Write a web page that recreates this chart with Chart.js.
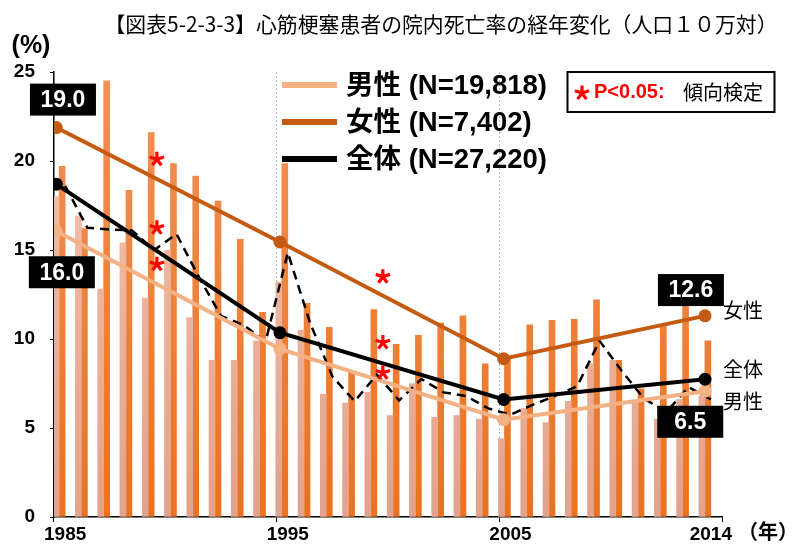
<!DOCTYPE html>
<html><head><meta charset="utf-8">
<script src="https://cdn.jsdelivr.net/npm/chart.js@4"></script>
<style>html,body{margin:0;padding:0;background:#fff;}</style>
</head><body>
<canvas id="c" width="800" height="545"></canvas>
<script>
// ---- data ----
const years = [1985,1986,1987,1988,1989,1990,1991,1992,1993,1994,1995,1996,1997,1998,1999,2000,2001,2002,2003,2004,2005,2006,2007,2008,2009,2010,2011,2012,2013,2014];
const yearLabels = years.map(String);
const maleRate   = [18.0,16.9,12.8,15.4,12.3,15.0,11.2,8.8,8.8,9.9,13.2,10.5,6.9,6.4,7.0,5.7,7.5,5.6,5.7,5.5,4.4,6.1,5.3,6.5,8.6,8.8,6.4,5.5,6.6,6.8];
const femaleRate = [19.7,16.2,24.5,18.35,21.6,19.85,19.15,17.75,15.6,11.5,19.85,12.0,10.65,8.15,11.65,9.7,10.2,10.9,11.3,8.6,8.95,10.8,11.05,11.1,12.2,8.8,7.2,10.7,12.0,9.9];
const totalRate  = [18.6,16.25,16.15,16.1,15.0,15.9,13.5,11.3,10.8,9.85,14.85,10.9,7.9,6.5,8.0,6.55,7.75,7.0,6.8,6.1,5.75,6.3,6.8,7.35,9.9,8.2,6.65,5.9,7.3,6.6];
const trendYears  = [1985,1995,2005,2014];
const maleTrend   = [16.05,9.45,5.47,7.07];
const femaleTrend = [21.88,15.45,8.89,11.3];
const totalTrend  = [18.7,10.35,6.6,7.74];
const shownYearLabels = ['1985','1995','2005','2014'];
const seriesNames = ['男性 (N=19,818)','女性 (N=7,402)','全体 (N=27,220)'];
const starYears  = [1989.5, 1999.6];
const starValues = [[20.1,16.25,14.2],[13.5,9.8,8.1]];
const valueLabels     = ['19.0','16.0','12.6','6.5'];
const valueLabelYears = [1985.3,1985.25,2013.37,2013.34];
const valueLabelPos   = [23.45,13.75,12.75,5.35];
const sideLabels      = ['女性','全体','男性'];
const sideLabelValues = [11.6,8.28,6.51];
const titleText = '【図表5-2-3-3】心筋梗塞患者の院内死亡率の経年変化（人口１０万対）';

const C_MALE = '#f4b183', C_FEMALE = '#c55a11', C_TOTAL = '#000000';

function vGrad(top, bottom) {
  let cache = null, key = '';
  return (c) => {
    const a = c.chart.chartArea;
    if (!a) return bottom;
    const k = a.top + ',' + a.bottom;
    if (!cache || key !== k) {
      const g = c.chart.ctx.createLinearGradient(0, a.bottom, 0, a.top);
      g.addColorStop(0, bottom); g.addColorStop(1, top);
      cache = g; key = k;
    }
    return cache;
  };
}
const pts = (xs, ys) => xs.map((x, i) => ({x: x, y: ys[i]}));

function drawStar(c, x, y) {
  c.save();
  c.strokeStyle = '#ff0000'; c.lineWidth = 3.2; c.lineCap = 'butt';
  c.beginPath();
  for (let k = 0; k < 5; k++) {
    const a = -Math.PI / 2 + k * 2 * Math.PI / 5;
    c.moveTo(x, y); c.lineTo(x + 7.5 * Math.cos(a), y + 7.5 * Math.sin(a));
  }
  c.stroke();
  c.restore();
}

const deco = {
  id: 'deco',
  beforeDraw(chart) {
    const c = chart.ctx; c.save(); c.fillStyle = '#fff'; c.fillRect(0, 0, chart.width, chart.height); c.restore();
  },
  afterDraw(chart) {
    const c = chart.ctx, xl = chart.scales.xl, y = chart.scales.y;
    c.save();
    c.textBaseline = 'middle';
    // title
    c.fillStyle = '#000'; c.textAlign = 'center';
    c.font = '21px "Noto Sans CJK JP"';
    c.fillText(titleText, 441, 24, 673);
    // (%)
    c.font = 'bold 25px "Liberation Sans"';
    c.fillText('(%)', 31, 46);
    // (年)
    c.textAlign = 'left';
    c.font = 'bold 20px "Noto Sans CJK JP"';
    c.fillText('（年）', 738, 531);
    // stars
    starYears.forEach((yr, i) => starValues[i].forEach(v => {
      drawStar(c, xl.getPixelForValue(yr), y.getPixelForValue(v));
    }));
    // value label boxes
    valueLabels.forEach((t, i) => {
      const px = xl.getPixelForValue(valueLabelYears[i]), py = y.getPixelForValue(valueLabelPos[i]);
      c.fillStyle = '#000'; c.fillRect(px - 33, py - 16, 66, 32);
      c.fillStyle = '#fff'; c.font = 'bold 23px "Liberation Sans"'; c.textAlign = 'center';
      c.fillText(t, px, py + 1);
    });
    // side labels
    c.fillStyle = '#000'; c.textAlign = 'center'; c.font = '20px "Noto Sans CJK JP"';
    sideLabels.forEach((t, i) => {
      c.fillText(t, xl.getPixelForValue(2014) + 38, y.getPixelForValue(sideLabelValues[i]));
    });
    // legend
    const lgColors = [C_MALE, C_FEMALE, C_TOTAL], lgY = [85, 122, 159];
    c.textAlign = 'left';
    c.font = 'bold 27.5px "Liberation Sans", "Noto Sans CJK JP"';
    seriesNames.forEach((t, i) => {
      c.strokeStyle = lgColors[i]; c.lineWidth = 6; c.lineCap = 'butt';
      c.beginPath(); c.moveTo(282, lgY[i]); c.lineTo(337, lgY[i]); c.stroke();
      c.fillStyle = '#000';
      c.fillText(t, 346, lgY[i] + 1);
    });
    // P box
    c.strokeStyle = '#000'; c.lineWidth = 2;
    c.strokeRect(567.5, 72, 207, 40);
    drawStar(c, 582, 93);
    c.fillStyle = '#ff0000';
    c.textAlign = 'left';
    c.font = 'bold 20px "Liberation Sans"';
    c.fillText('P<0.05:', 594, 92);
    c.fillStyle = '#000';
    c.font = '20px "Noto Sans CJK JP"';
    c.fillText('傾向検定', 683, 92);
    c.restore();
  }
};

new Chart(document.getElementById('c'), {
  type: 'bar',
  data: {
    labels: yearLabels,
    datasets: [
      { type: 'line', label: '全体(年次)', data: totalRate, xAxisID: 'xb', yAxisID: 'y',
        borderColor: '#000', borderWidth: 2.5, borderDash: [9, 6], pointRadius: 0, tension: 0, fill: false, order: 3 },
      { type: 'line', label: seriesNames[1], data: pts(trendYears, femaleTrend), xAxisID: 'xl', yAxisID: 'y',
        borderColor: C_FEMALE, backgroundColor: C_FEMALE, borderWidth: 4, pointRadius: 6.5, pointBorderWidth: 0,
        pointBackgroundColor: C_FEMALE, fill: false, order: 2 },
      { type: 'line', label: seriesNames[0], data: pts(trendYears, maleTrend), xAxisID: 'xl', yAxisID: 'y',
        borderColor: C_MALE, backgroundColor: C_MALE, borderWidth: 4, pointRadius: 6.5, pointBorderWidth: 0,
        pointBackgroundColor: C_MALE, fill: false, order: 1 },
      { type: 'line', label: seriesNames[2], data: pts(trendYears, totalTrend), xAxisID: 'xl', yAxisID: 'y',
        borderColor: C_TOTAL, backgroundColor: C_TOTAL, borderWidth: 4, pointRadius: 6.5, pointBorderWidth: 0,
        pointBackgroundColor: C_TOTAL, fill: false, order: 0 },
      { type: 'bar', label: '男性', data: maleRate, xAxisID: 'xb', yAxisID: 'y',
        backgroundColor: vGrad('#f7c5ad', '#e2a28c'), barThickness: 6, order: 9 },
      { type: 'bar', label: '女性', data: femaleRate, xAxisID: 'xb', yAxisID: 'y',
        backgroundColor: vGrad('#f29259', '#ea721f'), barThickness: 6, order: 10 }
    ]
  },
  options: {
    responsive: false,
    animation: false,
    devicePixelRatio: 1,
    layout: { padding: { top: 72, right: 78, left: 0, bottom: 0 } },
    plugins: { legend: { display: false }, tooltip: { enabled: false }, title: { display: false } },
    scales: {
      y: {
        min: 0, max: 25,
        ticks: { stepSize: 5, color: '#000', padding: 15, font: { family: 'Liberation Sans', size: 19, weight: 'bold' } },
        grid: { drawOnChartArea: false, tickLength: 4, tickColor: '#000', lineWidth: 1 },
        border: { color: '#000', width: 1.5 },
        afterFit: s => { s.width = 54; }
      },
      xb: {
        type: 'category', position: 'bottom', offset: true,
        grid: {
          offset: true, drawOnChartArea: true, lineWidth: 1, tickLength: 5,
          color: c => (c.index === 10 || c.index === 20) ? '#b8b8b8' : 'rgba(0,0,0,0)',
          tickColor: c => (c.index === 0 || c.index === 10 || c.index === 20 || c.index === undefined) ? '#000' : 'rgba(0,0,0,0)'
        },
        border: { color: '#000', width: 1.5, dash: [2, 2] },
        ticks: {
          autoSkip: false, maxRotation: 0, minRotation: 0, padding: 1, color: '#000',
          font: { family: 'Liberation Sans', size: 19, weight: 'bold' },
          callback: function (v) { const l = this.getLabelForValue(v); return shownYearLabels.includes(l) ? l : ''; }
        },
        afterFit: s => { s.height = 28; }
      },
      xl: { type: 'linear', position: 'bottom', display: false, offset: false, grid: { offset: false },
            min: 1984.9, max: 2014.76 }
    }
  },
  plugins: [deco]
});
</script>
</body></html>
